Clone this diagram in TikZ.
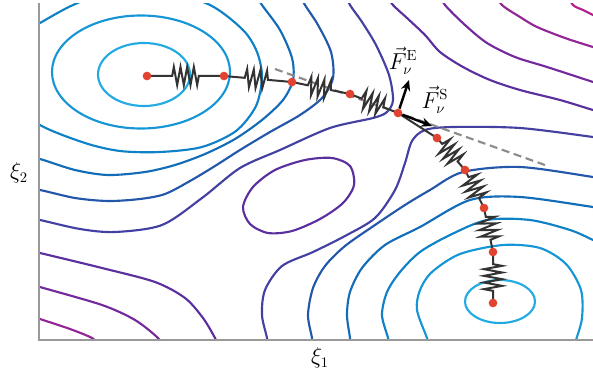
\documentclass[tikz,border=0pt]{standalone}
\usepackage{amsmath}
\usetikzlibrary{calc,decorations.pathmorphing,arrows.meta}
\definecolor{LevelA}{HTML}{22AAE2}
\definecolor{LevelB}{HTML}{1796D5}
\definecolor{LevelC}{HTML}{0F81C7}
\definecolor{LevelD}{HTML}{136CB7}
\definecolor{LevelE}{HTML}{2357A9}
\definecolor{LevelF}{HTML}{4340A1}
\definecolor{LevelG}{HTML}{5B2F9E}
\definecolor{LevelH}{HTML}{752A9B}
\definecolor{LevelI}{HTML}{942594}
\definecolor{LevelJ}{HTML}{B5208C}
\definecolor{AxisGray}{HTML}{999999}
\definecolor{SpringGray}{HTML}{333333}
\definecolor{TangentGray}{HTML}{8C8C8C}
\definecolor{ImageRed}{HTML}{E0432F}

\tikzset{
  contour/.style={line width=1.6pt},
  spring/.style={draw=SpringGray, line width=1.5pt,
    decoration={zigzag, segment length=5pt, amplitude=6.8pt}},
  bead/.style={circle, fill=ImageRed, inner sep=0pt, minimum size=6.5pt},
  force/.style={line width=1.8pt, -{Stealth[length=8pt,width=7pt]}},
  label/.style={font=\fontsize{16pt}{18pt}\selectfont},
}

\begin{document}
\begin{tikzpicture}[x=0.75pt,y=-0.75pt]
  \useasboundingbox (0,0) rectangle (593,378);

  \begin{scope}
    \clip (39,4) rectangle (593,340);
    % left basin
    \draw[contour, LevelA] (144,74.5) ellipse [x radius=46, y radius=31.5];
    \draw[contour, LevelB] (141,72) ellipse [x radius=89, y radius=56.5];
    \draw[contour, LevelC] plot[smooth cycle] coordinates {(262,77) (256,106) (236,131) (202,147) (160,152) (120,151) (85,143) (40,125) (12,100) (4,65) (15,38) (40,23) (73,5) (110,-8) (160,-10) (210,5) (243,30) (257,52)};
    \draw[contour, LevelD] plot[smooth] coordinates {(10,152) (40,159) (75,170) (108,175) (145,172) (175,165) (205,154) (235,139) (262,120) (283,100) (293,80) (292,58) (280,30) (262,5) (254,-8)};
    \draw[contour, LevelE] plot[smooth] coordinates {(10,185) (40,190) (75,198) (108,201) (140,199) (165,194) (190,181) (215,166) (240,150) (270,132) (300,115) (322,98) (333,78) (331,52) (318,25) (305,5) (298,-8)};
    \draw[contour, LevelF] plot[smooth] coordinates {(10,214) (40,220) (80,229) (115,232) (162,225) (202,198) (240,168) (280,150) (330,128) (373,118) (387,112) (393,100) (389,75) (376,45) (362,22) (350,5) (344,-8)};
    % right basin
    \draw[contour, LevelF] plot[smooth] coordinates {(268,350) (267,338) (262,315) (265,290) (282,266) (313,252) (345,236) (375,218) (395,190) (405,163) (412,141) (425,130) (453,127) (520,128) (593,137) (605,139)};
    \draw[contour, LevelE] plot[smooth] coordinates {(313,350) (312,338) (308,315) (313,288) (325,266) (345,246) (375,225) (405,205) (430,190) (463,172) (520,167) (593,177) (605,179)};
    \draw[contour, LevelD] plot[smooth] coordinates {(351,350) (350,338) (347,315) (350,292) (362,268) (385,245) (420,227) (470,200) (520,197) (593,207) (605,209)};
    \draw[contour, LevelC] plot[smooth] coordinates {(390,350) (388,338) (382,315) (387,292) (400,272) (420,252) (450,235) (487,220) (530,220) (570,230) (593,240) (605,246)};
    \draw[contour, LevelB] plot[smooth] coordinates {(432,352) (427,338) (417,310) (420,290) (432,272) (460,254) (503,245) (540,248) (566,264) (581,290) (582,318) (576,340) (572,352)};
    \draw[contour, LevelA] (500,301.5) ellipse [x radius=35, y radius=21.5];
    % ridge
    \draw[contour, LevelG] plot[smooth cycle] coordinates {(243,207) (250,224) (268,233) (292,231) (320,219) (343,203) (354,185) (350,166) (332,158) (305,160) (275,170) (253,187)};
    \draw[contour, LevelG] plot[smooth] coordinates {(10,246) (40,253) (102,268) (155,282) (185,298) (203,318) (215,338) (220,350)};
    \draw[contour, LevelH] plot[smooth] coordinates {(10,278) (40,287) (102,305) (135,320) (158,338) (164,348)};
    \draw[contour, LevelI] plot[smooth] coordinates {(10,309) (40,319) (70,329) (92,338) (98,345)};
    \draw[contour, LevelG] plot[smooth] coordinates {(384,-8) (393,5) (407,18) (425,35) (440,52) (463,67) (490,80) (520,90) (560,100) (593,110) (605,113)};
    \draw[contour, LevelH] plot[smooth] coordinates {(438,-8) (445,5) (465,25) (487,43) (515,57) (547,67) (593,82) (605,86)};
    \draw[contour, LevelI] plot[smooth] coordinates {(494,-8) (502,5) (520,17) (537,27) (565,38) (593,47) (605,50)};
    \draw[contour, LevelJ] plot[smooth] coordinates {(566,-8) (573,5) (583,10) (593,15) (605,20)};
  \end{scope}

  \draw[AxisGray, line width=1.9pt] (39,3) -- (39,340) -- (593,340);

  % band
  \coordinate (i1) at (147,76);
  \coordinate (i2) at (224,76);
  \coordinate (i3) at (292,82);
  \coordinate (i4) at (350,94);
  \coordinate (i5) at (398,113);
  \coordinate (i6) at (437,138);
  \coordinate (i7) at (465,170);
  \coordinate (i8) at (484,208);
  \coordinate (i9) at (493,252);
  \coordinate (i10) at (493,303);

  \coordinate (t1) at (275,69);
  \coordinate (t2) at (545,165);
  \draw[TangentGray, line width=1.6pt, dash pattern=on 6pt off 3.5pt] (t1) -- (t2);

  \foreach \a/\b in {i1/i2,i2/i3,i3/i4,i4/i5,i6/i7,i7/i8,i8/i9,i9/i10} {
    \coordinate (mid) at ($(\a)!0.5!(\b)$);
    \draw[spring] (\a) -- ($(mid)!10pt!(\a)$) decorate {-- ($(mid)!10pt!(\b)$)} -- (\b);
  }
  \draw[spring] (i5) -- (i6);

  \foreach \i in {1,...,10} {
    \node[bead] (b\i) at (i\i) {};
  }

  \coordinate (tipE) at (409,80);
  \coordinate (tipS) at (432,126);
  \draw[force] (b5) -- (tipE);
  \draw[force] (b5) -- (tipS);

  \node[label] (labE) at (403,61) {$\vec{F}_{\nu}^{\mathrm{E}}$};
  \node[label] (labS) at (435,100) {$\vec{F}_{\nu}^{\mathrm{S}}$};
  \node[label] (xi1) at (320,358) {$\xi_1$};
  \node[label] (xi2) at (19,173) {$\xi_2$};
\end{tikzpicture}
\end{document}
